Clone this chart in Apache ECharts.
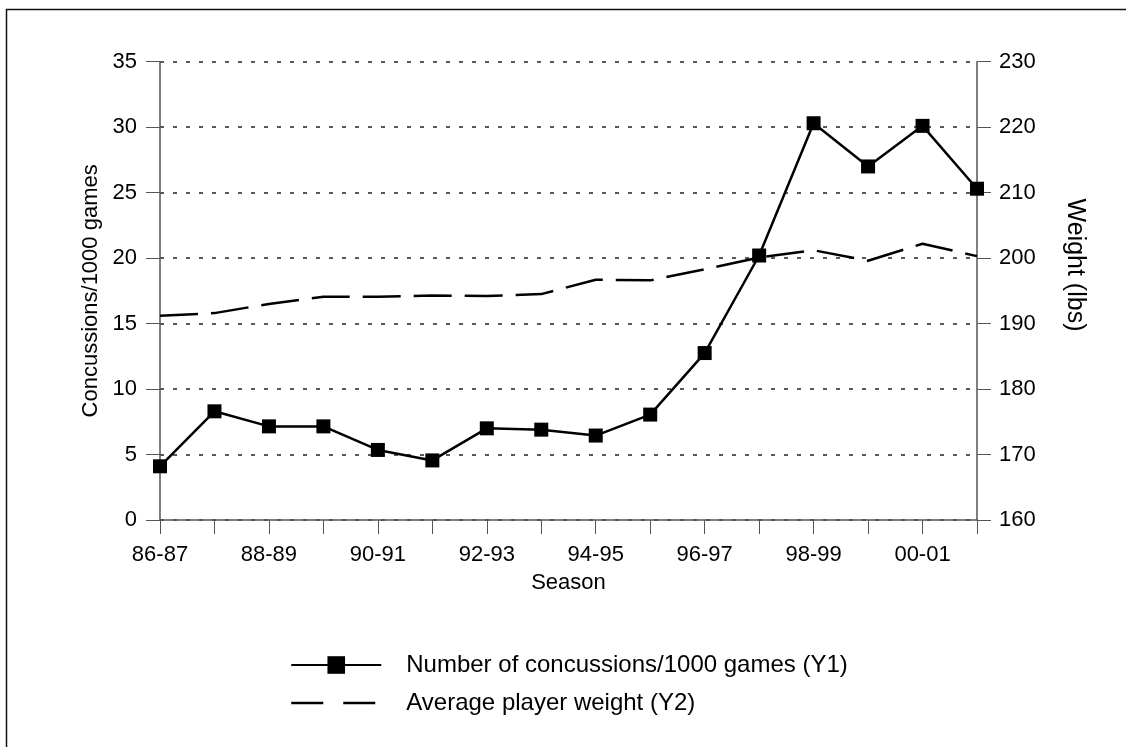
<!DOCTYPE html>
<html>
<head>
<meta charset="utf-8">
<script src="https://cdn.jsdelivr.net/npm/echarts@6/dist/echarts.min.js"></script>
<style>html,body{margin:0;padding:0;background:#fff;}#c{width:1126px;height:747px;}</style>
</head>
<body>
<div id="c"></div>
<script>
const seasons = ['86-87','87-88','88-89','89-90','90-91','91-92','92-93','93-94','94-95','95-96','96-97','97-98','98-99','99-00','00-01','01-02'];
const concussions = [4.1, 8.3, 7.15, 7.15, 5.35, 4.55, 7.0, 6.9, 6.45, 8.05, 12.75, 20.2, 30.3, 27.0, 30.1, 25.3];
const weight = [191.2, 191.6, 193.0, 194.1, 194.1, 194.3, 194.2, 194.5, 196.7, 196.6, 198.3, 200.1, 201.2, 199.6, 202.2, 200.3];
const seriesNames = ['Number of concussions/1000 games (Y1)', 'Average player weight (Y2)'];
const axisNames = ['Season', 'Concussions/1000 games', 'Weight (lbs)'];

const FONT = 'Liberation Sans, Arial, sans-serif';
const chart = echarts.init(document.getElementById('c'), null, {renderer: 'canvas'});
chart.setOption({
  backgroundColor: '#fff',
  animation: false,
  textStyle: {fontFamily: FONT, color: '#000'},
  grid: {left: 160, right: 149, top: 61.7, bottom: 227, containLabel: false},
  graphic: [
    {type: 'rect', shape: {x: 6.5, y: 9.5, width: 1300, height: 900}, style: {fill: 'none', stroke: '#111', lineWidth: 1.5}, silent: true},
    {type: 'text', x: 1075, y: 265, rotation: -Math.PI / 2,
     style: {text: axisNames[2], font: '25px ' + FONT, fill: '#000', align: 'center', verticalAlign: 'middle'}}
  ],
  legend: {
    orient: 'vertical', left: 285, top: 648, itemWidth: 90, itemHeight: 22, itemGap: 14,
    textStyle: {fontSize: 24, fontFamily: FONT, color: '#000', padding: [0, 0, 0, 20]},
    data: [
      {name: seriesNames[0]},
      {name: seriesNames[1], itemStyle: {opacity: 0, color: 'rgba(0,0,0,0)', borderWidth: 0},
       lineStyle: {type: [32, 20], width: 2.5, color: '#000', opacity: 1}}
    ]
  },
  xAxis: {
    type: 'category', data: seasons, boundaryGap: false,
    name: axisNames[0], nameLocation: 'middle', nameGap: 52,
    nameTextStyle: {fontSize: 22, fontFamily: FONT, color: '#000'},
    axisLine: {show: true, lineStyle: {color: '#555', width: 1.5}},
    axisTick: {show: true, interval: 0, length: 14, inside: false, lineStyle: {color: '#555', width: 1}},
    axisLabel: {interval: 1, margin: 24, fontSize: 22, fontFamily: FONT, color: '#000'},
    splitLine: {show: false}
  },
  yAxis: [
    {
      type: 'value', min: 0, max: 35, interval: 5, position: 'left',
      name: axisNames[1], nameLocation: 'middle', nameGap: 54, nameRotate: 90,
      nameTextStyle: {fontSize: 22, fontFamily: FONT, color: '#000'},
      axisLine: {show: true, lineStyle: {color: '#555', width: 1.5}},
      axisTick: {show: true, length: 14, inside: false, lineStyle: {color: '#555', width: 1}},
      axisLabel: {margin: 23, fontSize: 22, fontFamily: FONT, color: '#000'},
      splitLine: {show: true, lineStyle: {color: '#222', type: [4, 9], width: 1.5}}
    },
    {
      type: 'value', min: 160, max: 230, interval: 10, position: 'right',
      axisLine: {show: true, lineStyle: {color: '#555', width: 1.5}},
      axisTick: {show: true, length: 14, inside: false, lineStyle: {color: '#555', width: 1}},
      axisLabel: {margin: 22, fontSize: 22, fontFamily: FONT, color: '#000'},
      splitLine: {show: false}
    }
  ],
  series: [
    {
      name: seriesNames[0], type: 'line', yAxisIndex: 0, data: concussions,
      symbol: 'rect', symbolSize: 14, showAllSymbol: true,
      lineStyle: {color: '#000', width: 2.5},
      itemStyle: {color: '#000'},
      z: 3
    },
    {
      name: seriesNames[1], type: 'line', yAxisIndex: 1, data: weight,
      symbol: 'none', showSymbol: false,
      lineStyle: {color: '#000', width: 2.5, type: [38, 13]},
      itemStyle: {color: '#000'},
      z: 2
    }
  ]
});
</script>
</body>
</html>
